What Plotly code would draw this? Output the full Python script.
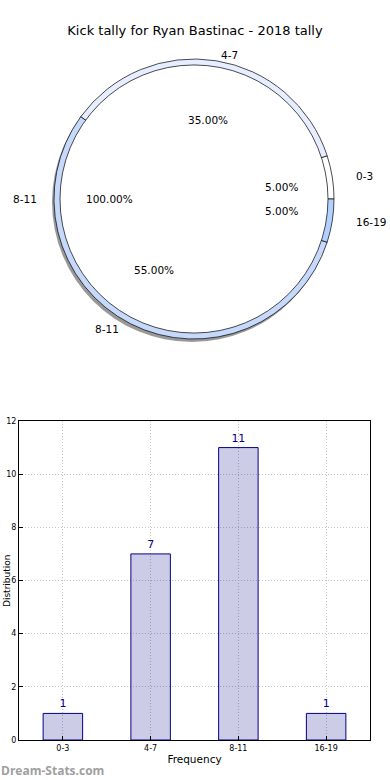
import numpy as np
import plotly.graph_objects as go

# ---------------- data ----------------
bins = ["0-3", "4-7", "8-11", "16-19"]
counts = [1, 7, 11, 1]
ring_colors = ["#ffffff", "#e6eeff", "#c6d9fb", "#b3d1ff"]
inner_labels = ["8-11"]
inner_values = [20]
inner_colors = ["#ffffff"]
y_ticks = [0, 2, 4, 6, 8, 10, 12]

title_text = "Kick tally for Ryan Bastinac - 2018 tally"
x_title = "Frequency"
y_title = "Distribution"
watermark = "Dream-Stats.com"

# ---------------- layout constants ----------------
W, H = 390, 780
cx, cy = 194, 199          # pie centre (px)
R_out = 140                # outer ring radius (px)
R_in = 134                 # inner pie radius (px)
rx_t, ry_t = 147, 133      # text placement radii, outer ring
rx_ti, ry_ti = 141, 128    # text placement radii, inner pie
FONT = "DejaVu Sans"


def dom(r, dx=0, dy=0):
    return dict(x=[(cx + dx - r) / W, (cx + dx + r) / W],
                y=[1 - (cy + dy + r) / H, 1 - (cy + dy - r) / H])


def start_rotation(values):
    # plotly counterclockwise pies put the END of the first slice at `rotation`;
    # shift so the first slice starts at 3 o'clock (matplotlib startangle=0)
    return 90 - 360.0 * values[0] / float(sum(values))


fig = go.Figure()

# shadow
fig.add_trace(go.Pie(values=[1], labels=["s"], domain=dom(R_out, -2, 3),
                     marker=dict(colors=["rgba(0,0,0,0.4)"], line=dict(width=0)),
                     textinfo="none", hoverinfo="skip", sort=False, showlegend=False))
# outer ring
fig.add_trace(go.Pie(values=counts, labels=bins, domain=dom(R_out), hole=R_in / R_out * 0.99,
                     sort=False, direction="counterclockwise", rotation=start_rotation(counts),
                     marker=dict(colors=ring_colors, line=dict(color="#000000", width=0.7)),
                     textinfo="none", showlegend=False))
# inner pie
fig.add_trace(go.Pie(values=inner_values, labels=inner_labels, domain=dom(R_in),
                     sort=False, direction="counterclockwise", rotation=90,
                     marker=dict(colors=inner_colors, line=dict(color="#000000", width=0.7)),
                     textinfo="none", showlegend=False))

annotations = []


def pie_text(values, labels, rx, ry):
    tot = float(sum(values))
    start = 0.0
    for v, lab in zip(values, labels):
        frac = v / tot
        mid = np.deg2rad((start + frac / 2) * 360.0)
        start += frac
        c, s = np.cos(mid), np.sin(mid)
        lx, ly = cx + 1.1 * rx * c, cy - 1.1 * ry * s
        annotations.append(dict(x=lx / W, y=1 - ly / H, xref="paper", yref="paper",
                                text=lab, showarrow=False,
                                xanchor="left" if c > 0 else "right", yanchor="middle",
                                font=dict(size=10.5, color="#000000", family=FONT)))
        px, py = cx + 0.6 * rx * c, cy - 0.6 * ry * s
        annotations.append(dict(x=px / W, y=1 - py / H, xref="paper", yref="paper",
                                text=f"{frac * 100:.2f}%", showarrow=False,
                                xanchor="center", yanchor="middle",
                                font=dict(size=10.5, color="#000000", family=FONT)))


pie_text(counts, bins, rx_t, ry_t)
pie_text(inner_values, inner_labels, rx_ti, ry_ti)

# ---------------- bar chart ----------------
fig.add_trace(go.Bar(x=bins, y=counts, width=0.45,
                     marker=dict(color="rgba(0,0,128,0.2)", line=dict(color="#00008b", width=1)),
                     text=[str(c) for c in counts], textposition="outside",
                     textfont=dict(size=11, color="#00008b", family=FONT),
                     cliponaxis=False, showlegend=False,
                     xaxis="x", yaxis="y"))

axis_common = dict(showline=True, linecolor="#000000", linewidth=1, mirror=True,
                   ticks="inside", ticklen=4, tickcolor="#000000",
                   showgrid=True, gridcolor="#c4c4c4", griddash="1px,2px", gridwidth=1,
                   zeroline=False, automargin=False,
                   tickfont=dict(size=8, color="#000000", family=FONT))

fig.update_layout(
    width=W, height=H,
    margin=dict(l=0, r=0, t=0, b=0, autoexpand=False),
    paper_bgcolor="#ffffff", plot_bgcolor="#ffffff",
    font=dict(family=FONT),
    title=dict(text=title_text, x=0.5, xanchor="center", y=1 - 30 / H, yanchor="middle",
               font=dict(size=13, color="#000000", family=FONT)),
    xaxis=dict(domain=[19 / W, 370 / W], anchor="y", type="category",
               range=[-0.5, 3.5],
               title=dict(text=x_title, font=dict(size=10.5, color="#000000"), standoff=4),
               **axis_common),
    yaxis=dict(domain=[40 / H, 359 / H], anchor="x", range=[0, 12],
               tickvals=y_ticks, **axis_common),
    annotations=annotations + [
        dict(x=0, y=1 - 581 / H, xref="paper", yref="paper", text=y_title,
             textangle=-90, showarrow=False, xanchor="left", yanchor="middle",
             font=dict(size=9, color="#000000", family=FONT)),
        dict(x=-1 / W, y=1 - 770 / H, xref="paper", yref="paper", text=f"<b>{watermark}</b>",
             showarrow=False, xanchor="left", yanchor="middle",
             font=dict(size=12, color="#a0a0a0", family="Open Sans")),
    ],
)

fig.write_html("out.html", config={"displayModeBar": False},
               post_script="document.body.style.margin='0';document.body.style.overflow='hidden';")
